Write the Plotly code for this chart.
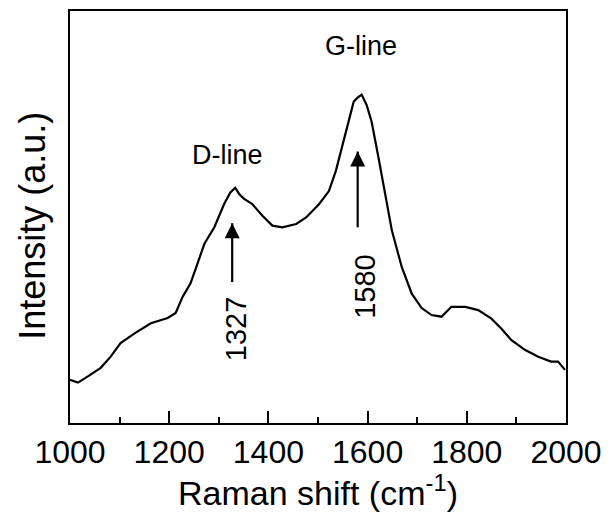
import plotly.graph_objects as go

# Raman spectrum values
raman_shift = [1000, 1016, 1036, 1062, 1082, 1102, 1131, 1163, 1197, 1213, 1227, 1243,
               1257, 1271, 1291, 1311, 1323, 1333, 1341, 1351, 1367, 1388, 1408, 1428,
               1456, 1476, 1502, 1522, 1536, 1548, 1562, 1572, 1580, 1588, 1598, 1608,
               1622, 1637, 1649, 1669, 1689, 1709, 1729, 1749, 1769, 1797, 1823, 1849,
               1869, 1890, 1918, 1944, 1970, 1984, 1998]
intensity = [10.5, 9.8, 11.3, 13.4, 16.1, 19.4, 21.8, 24.2, 25.5, 26.7, 30.6, 33.9,
             38.7, 43.5, 47.5, 53.2, 55.9, 57.1, 55.6, 54.4, 53.2, 50.3, 47.9, 47.5,
             48.3, 49.9, 53.1, 56.3, 61.2, 66.8, 74.0, 78.0, 79.0, 79.7, 77.2, 73.2,
             64.4, 54.7, 46.7, 37.8, 31.4, 27.9, 26.2, 25.8, 28.2, 28.2, 27.4, 25.4,
             23.0, 20.1, 17.7, 16.1, 14.9, 14.9, 12.9]

x_ticks = [1000, 1200, 1400, 1600, 1800, 2000]
peak_names = ["D-line", "G-line"]
peak_positions = [1327, 1580]
peak_labels = ["1327", "1580"]
name_pos = [(1317, 65.0), (1587, 91.6)]
arrow_tail = [34.2, 47.5]
arrow_head = [48.5, 65.9]
label_pos = [(1335, 22.8), (1596, 33.2)]

FONT = "Liberation Sans, Arial, sans-serif"

fig = go.Figure()
fig.add_trace(go.Scatter(x=raman_shift, y=intensity, mode="lines",
                         line=dict(color="black", width=2.2), showlegend=False,
                         hoverinfo="skip"))

for i in range(2):
    # arrow shaft
    fig.add_trace(go.Scatter(x=[peak_positions[i], peak_positions[i]],
                             y=[arrow_tail[i], arrow_head[i]], mode="lines",
                             line=dict(color="black", width=2.2), showlegend=False,
                             hoverinfo="skip"))
    # arrow head
    fig.add_trace(go.Scatter(x=[peak_positions[i]], y=[arrow_head[i]], mode="markers",
                             marker=dict(symbol="arrow-up", size=15, color="black",
                                         line=dict(width=0)),
                             showlegend=False, hoverinfo="skip"))

annotations = []
for i in range(2):
    annotations.append(dict(x=name_pos[i][0], y=name_pos[i][1], xref="x", yref="y",
                            text=peak_names[i], showarrow=False,
                            font=dict(family=FONT, size=27, color="black")))
    annotations.append(dict(x=label_pos[i][0], y=label_pos[i][1], xref="x", yref="y",
                            text=peak_labels[i], showarrow=False, textangle=-90,
                            font=dict(family=FONT, size=29, color="black")))

annotations.append(dict(x=0.5, y=-0.163, xref="paper", yref="paper",
                        text="Raman shift (cm<sup>-1</sup>)", showarrow=False,
                        xanchor="center", yanchor="middle",
                        font=dict(family=FONT, size=34, color="black")))
annotations.append(dict(x=-0.0743, y=0.479, xref="paper", yref="paper",
                        text="Intensity (a.u.)", showarrow=False, textangle=-90,
                        xanchor="center", yanchor="middle",
                        font=dict(family=FONT, size=36, color="black")))

fig.update_layout(
    width=611, height=519,
    margin=dict(l=70, r=43, t=9, b=96),
    paper_bgcolor="white", plot_bgcolor="white",
    annotations=annotations,
    font=dict(family=FONT, color="black"),
)
fig.update_xaxes(range=[1000, 2000], tickvals=x_ticks, ticks="inside", ticklen=12,
                 tickwidth=1.5, tickcolor="black", showline=True, linecolor="black",
                 linewidth=1.5, mirror=True, showgrid=False, zeroline=False,
                 tickfont=dict(family=FONT, size=32, color="black"),
                 minor=dict(dtick=100, ticks="inside", ticklen=6, tickwidth=1.5,
                            tickcolor="black", showgrid=False))
fig.update_yaxes(range=[0, 100], showticklabels=False, ticks="", showline=True,
                 linecolor="black", linewidth=1.5, mirror=True, showgrid=False,
                 zeroline=False)

fig.write_html("out.html")
